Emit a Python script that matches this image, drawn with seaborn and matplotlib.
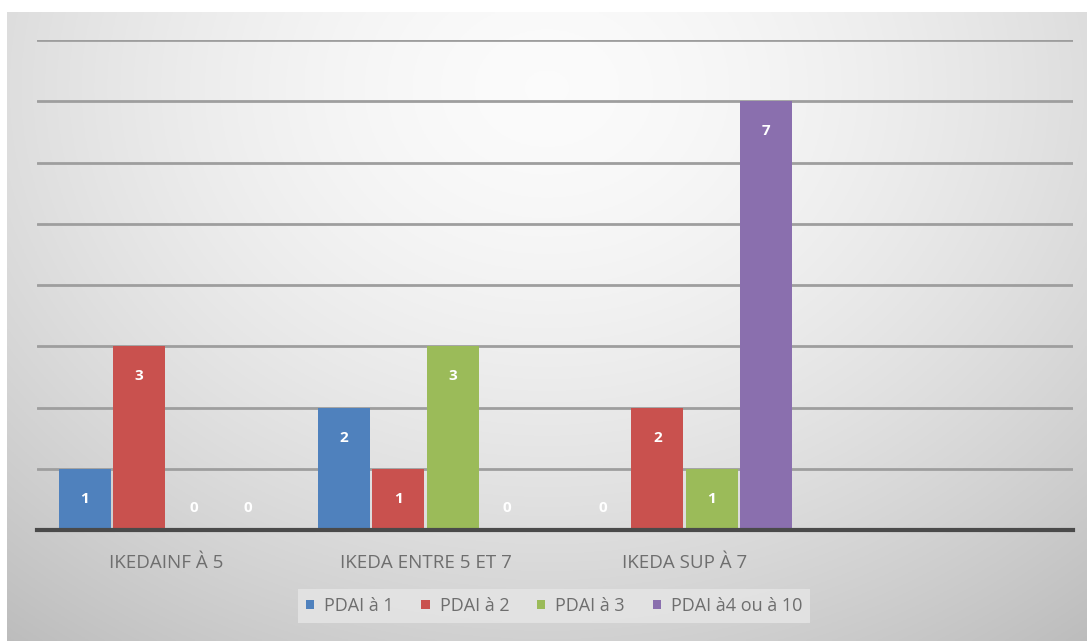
import numpy as np
import pandas as pd
import matplotlib
matplotlib.use("Agg")
import matplotlib.pyplot as plt
import seaborn as sns

# Chart data
groups = ["IKEDAINF À 5", "IKEDA ENTRE 5 ET 7", "IKEDA SUP À 7"]
series = ["PDAI à 1", "PDAI à 2", "PDAI à 3", "PDAI à4 ou à 10"]
pdai_1 = [1, 2, 0]
pdai_2 = [3, 1, 2]
pdai_3 = [0, 3, 1]
pdai_4_10 = [0, 0, 7]
colors = ["#4f81bd", "#c9514e", "#9bbb59", "#8a6fae"]

rows = []
for name, vals in zip(series, [pdai_1, pdai_2, pdai_3, pdai_4_10]):
    for g, v in zip(groups, vals):
        rows.append({"group": g, "series": name, "value": v})
df = pd.DataFrame(rows)

sns.set_theme(style="white")
plt.rcParams["font.family"] = ["Open Sans", "DejaVu Sans"]

W, H = 1087, 641
fig = plt.figure(figsize=(W / 100, H / 100), dpi=100)
fig.patch.set_facecolor("white")

# Soft grey radial backdrop behind the plot
bg = fig.add_axes([7 / W, 0, (W - 7) / W, (H - 12) / H])
yy, xx = np.mgrid[0:1:300j, 0:1:500j]
r = np.sqrt(((xx - 0.5) / 0.75) ** 2 + ((yy - 0.12) / 1.05) ** 2)
shade = 0.985 - 0.22 * np.clip(r, 0, 1.2) ** 1.6
shade = np.clip(shade, 0.74, 1.0)
bg.imshow(np.dstack([shade] * 3), aspect="auto", extent=[0, 1, 1, 0])
bg.set_axis_off()

ax = fig.add_axes([37 / W, (H - 530) / H, (1073 - 37) / W, 490 / H])
ax.patch.set_alpha(0)

sns.barplot(data=df, x="group", y="value", hue="series", order=groups,
            hue_order=series, palette=colors, width=0.84, gap=0.04,
            saturation=1, errorbar=None, linewidth=0, ax=ax, legend=True)

ax.set_xlim(-0.5, 3.5)
ax.set_ylim(0, 8)
ax.set_yticks(range(0, 9))
ax.set_yticklabels([])
ax.tick_params(axis="y", length=0)
ax.tick_params(axis="x", length=0, pad=17, labelsize=13.5, labelcolor="#6e6e6e")
ax.set_xlabel("")
ax.set_ylabel("")
ax.yaxis.grid(True, color="#9e9e9e", linewidth=2)
ax.set_axisbelow(True)
for s in ["top", "right", "left"]:
    ax.spines[s].set_visible(False)
ax.spines["bottom"].set_color("#4a4a4a")
ax.spines["bottom"].set_linewidth(3)

# Value labels inside the top of each bar
for cont in ax.containers:
    for patch in cont:
        h = patch.get_height()
        cx = patch.get_x() + patch.get_width() / 2
        off = -30 if h > 0 else 22
        ax.annotate(f"{int(round(h))}", xy=(cx, h), xytext=(0, off),
                    textcoords="offset pixels", ha="center", va="center",
                    color="white", fontsize=11, fontweight="bold")

leg = ax.legend(loc="center", bbox_to_anchor=(554 / W, (H - 606) / H),
                bbox_transform=fig.transFigure, ncol=4, frameon=True,
                fontsize=13, handlelength=0.45, handleheight=0.45,
                handletextpad=0.55, columnspacing=1.55, borderpad=0.45)
leg.get_frame().set_facecolor("#e6e6e6")
leg.get_frame().set_edgecolor("none")
leg.get_frame().set_boxstyle("square", pad=0)
for t in leg.get_texts():
    t.set_color("#6e6e6e")

fig.savefig("out.png", dpi=100)
